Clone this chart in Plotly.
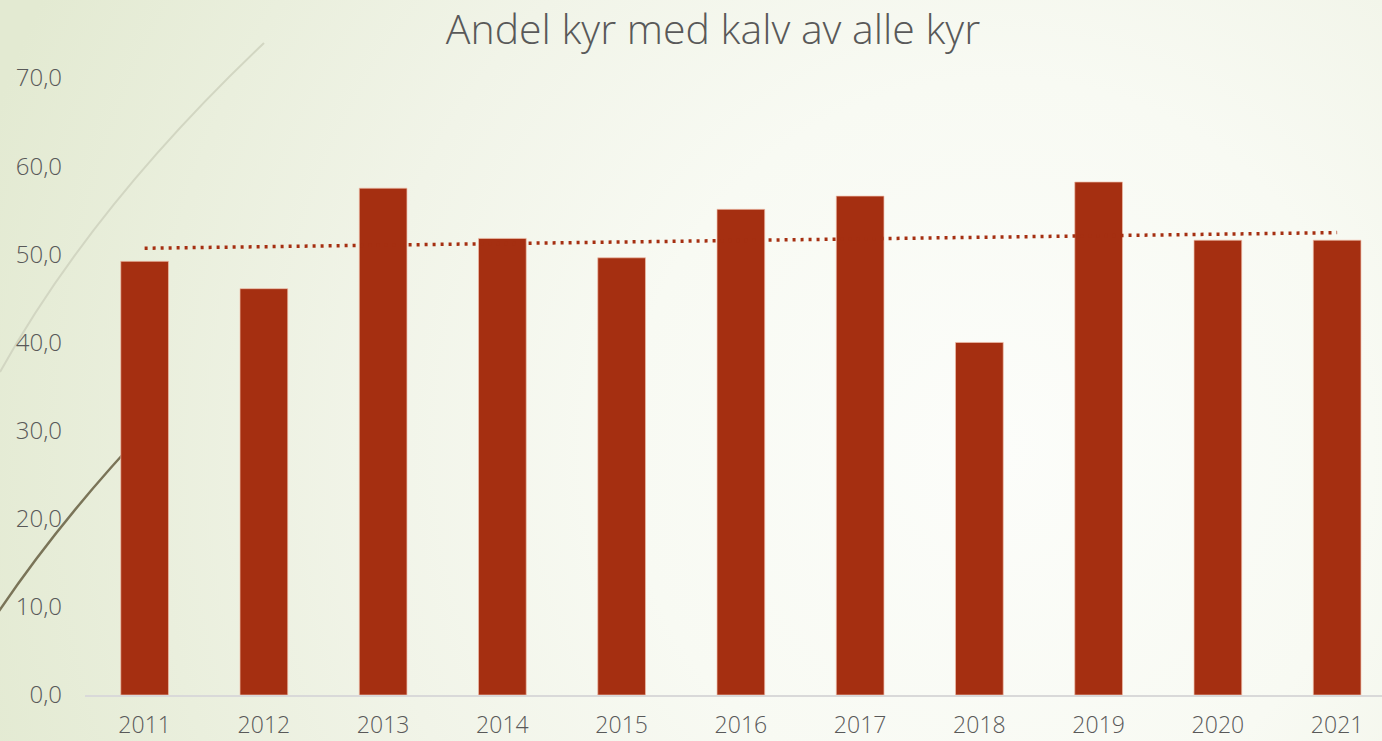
import base64
import numpy as np
import plotly.graph_objects as go

# data
years = ["2011", "2012", "2013", "2014", "2015", "2016", "2017", "2018", "2019", "2020", "2021"]
andel = [49.2, 46.1, 57.5, 51.8, 49.6, 55.1, 56.6, 40.0, 58.2, 51.6, 51.6]
y_ticks = [0, 10, 20, 30, 40, 50, 60, 70]

BAR = "#A52F11"
TXT = "#595959"
W, H = 1382, 741

# linear trend (like Excel's trendline)
idx = np.arange(len(andel))
k, m = np.polyfit(idx, andel, 1)
trend = k * idx + m

# slide-like background: soft radial gradient and two decorative curves
bg_svg = f"""<svg xmlns='http://www.w3.org/2000/svg' width='{W}' height='{H}' viewBox='0 0 {W} {H}'>
<defs><radialGradient id='g' cx='1000' cy='450' r='1060' gradientUnits='userSpaceOnUse'>
<stop offset='0' stop-color='#FCFDFA'/><stop offset='0.35' stop-color='#F8FAF3'/>
<stop offset='0.6' stop-color='#F1F4E8'/><stop offset='1' stop-color='#E3EAD2'/>
</radialGradient></defs>
<rect width='{W}' height='{H}' fill='url(#g)'/>
<path d='M0,372 Q92,206 264,43' fill='none' stroke='#D2D6C2' stroke-width='2'/>
<path d='M-5,617 Q60,520 150,425' fill='none' stroke='#7A7458' stroke-width='2.5'/>
</svg>"""
bg_src = "data:image/svg+xml;base64," + base64.b64encode(bg_svg.encode()).decode()

fig = go.Figure()

fig.add_trace(go.Bar(
    x=years, y=andel,
    width=0.4,
    marker=dict(color=BAR, line=dict(color="rgba(240,190,170,0.7)", width=1)),
    showlegend=False,
))

fig.add_trace(go.Scatter(
    x=years, y=trend,
    mode="lines",
    line=dict(color=BAR, width=3.5, dash="3px,5px"),
    showlegend=False,
    hoverinfo="skip",
))

# plot area: left 85px, right edge of figure, y=0 at 695px, y=70 at 78px
ml, mr, mt, mb = 85, 0, 78, 46
pw = W - ml - mr
ph = H - mt - mb
unit = 119.25  # px per category

fig.update_layout(
    width=W, height=H,
    margin=dict(l=ml, r=mr, t=mt, b=mb),
    paper_bgcolor="#F4F6EC",
    plot_bgcolor="rgba(0,0,0,0)",
    separators=",.",
    font=dict(family="Open Sans", color=TXT),
    title=dict(
        text="Andel kyr med kalv av alle kyr",
        x=713 / W, xanchor="center", xref="container",
        y=1 - 30 / H, yanchor="middle", yref="container",
        font=dict(size=41, color=TXT, family="Open Sans", weight=300),
    ),
    xaxis=dict(
        type="category",
        range=[-0.5, -0.5 + pw / unit],
        showline=True, linecolor="#D9D9D9", linewidth=1.5,
        showgrid=False, ticks="",
        tickfont=dict(size=23, color=TXT, weight=300),
        ticklabelstandoff=9,
        automargin=False,
    ),
    yaxis=dict(
        range=[0, 70],
        tickvals=y_ticks,
        tickformat=".1f",
        showgrid=False, zeroline=False, showline=False, ticks="",
        tickfont=dict(size=24, color=TXT, weight=300),
        ticklabelstandoff=22,
        automargin=False,
    ),
    images=[dict(
        source=bg_src, xref="paper", yref="paper",
        x=-ml / pw, y=1 + mt / ph,
        sizex=W / pw, sizey=H / ph,
        xanchor="left", yanchor="top",
        sizing="stretch", layer="below",
    )],
)

# page has a default 8px body margin; drop it so the figure fills the window
fig.write_html(
    "out.html",
    config={"displayModeBar": False},
    post_script="document.body.style.margin='0';",
)
